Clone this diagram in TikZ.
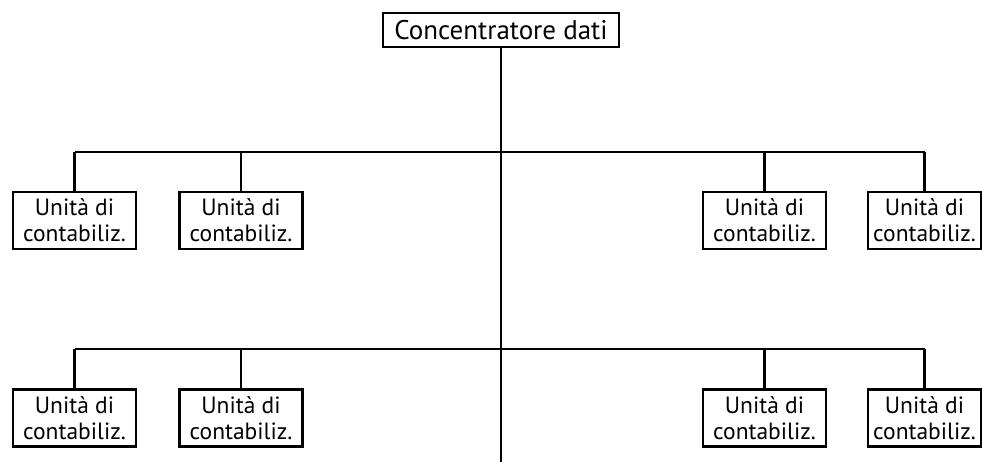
\documentclass[tikz,border=0pt]{standalone}
\usepackage{fontspec}
\setmainfont{PT Sans}
\usetikzlibrary{positioning}
\tikzset{
  unitbox/.style={draw, line width=2.4pt, minimum width=123pt, minimum height=57pt,
    inner sep=0pt, align=center, font=\fontsize{23.5}{26}\selectfont},
  hubbox/.style={draw, line width=2.4pt, minimum width=236pt, minimum height=34pt,
    inner sep=0pt, font=\fontsize{27}{30}\selectfont},
  wire/.style={line width=2.6pt}
}

\begin{document}
\begin{tikzpicture}[x=1pt, y=-1pt]
  \useasboundingbox (0,0) rectangle (982,462);
  % concentrator and trunk
  \node[hubbox] (hub) at (501,30) {Concentratore dati};
  \coordinate (trunkend) at (501,463);
  \coordinate (busup) at (501,152);
  \coordinate (buslow) at (501,349);
  \draw[wire] (hub.south) -- (trunkend);
  % upper row
  \node[unitbox] (ua) at (74.5,220.5) {Unità di\\contabiliz.};
  \node[unitbox] (ub) at (241,220.5) {Unità di\\contabiliz.};
  \node[unitbox] (uc) at (764.5,220.5) {Unità di\\contabiliz.};
  \node[unitbox, minimum width=113pt] (ud) at (924.5,220.5) {Unità di\\contabiliz.};
  % lower row
  \node[unitbox] (la) at (74.5,418) {Unità di\\contabiliz.};
  \node[unitbox] (lb) at (241,418) {Unità di\\contabiliz.};
  \node[unitbox] (lc) at (764.5,418) {Unità di\\contabiliz.};
  \node[unitbox, minimum width=113pt] (ld) at (924.5,418) {Unità di\\contabiliz.};
  % buses
  \draw[wire] (ua.north |- busup) -- (ud.north |- busup);
  \draw[wire] (la.north |- buslow) -- (ld.north |- buslow);
  \foreach \u in {ua,ub,uc,ud}
    \draw[wire] (\u.north) -- (\u.north |- busup);
  \foreach \u in {la,lb,lc,ld}
    \draw[wire] (\u.north) -- (\u.north |- buslow);
\end{tikzpicture}
\end{document}
